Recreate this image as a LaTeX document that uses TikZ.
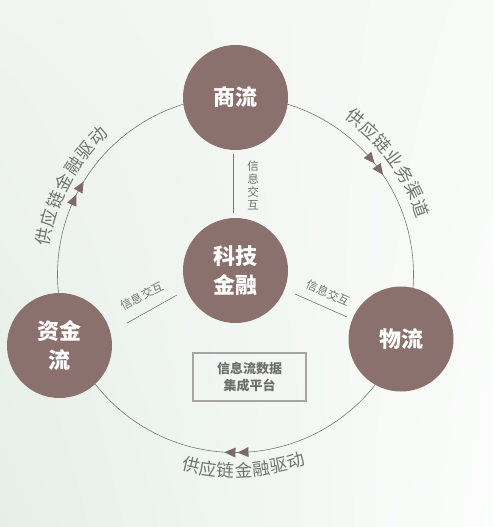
\documentclass[tikz,border=0pt]{standalone}
\usepackage{fontspec}
\setmainfont{Noto Sans CJK SC}
\usetikzlibrary{calc,shadings}
\definecolor{nodebrown}{RGB}{139,113,109}
\definecolor{arrowc}{RGB}{125,107,105}
\definecolor{ringc}{RGB}{120,120,120}
\definecolor{labc}{RGB}{115,115,115}
\definecolor{boxc}{RGB}{165,165,165}
\definecolor{boxtext}{RGB}{110,110,110}
\definecolor{bgul}{RGB}{241,244,241}
\definecolor{bgll}{RGB}{229,239,231}
\definecolor{bgur}{RGB}{248,250,248}
\definecolor{bglr}{RGB}{252,253,252}
\tikzset{
  bignode/.style={circle, fill=nodebrown, text=white, minimum size=105pt, inner sep=0pt,
    align=center, font=\bfseries\fontsize{22}{29}\selectfont},
  ring/.style={draw=ringc, line width=0.6pt},
  infoline/.style={draw=ringc, line width=0.6pt},
  arclab/.style={text=labc, inner sep=0pt, font=\fontsize{17.5}{18}\selectfont},
  infolab/.style={text=labc, inner sep=0pt, align=center, font=\fontsize{11.5}{13}\selectfont},
  platbox/.style={draw=boxc, line width=1.2pt, minimum width=113pt, minimum height=48pt,
    align=center, text=boxtext, font=\bfseries\fontsize{13}{17}\selectfont},
  arrowtri/.style={fill=arrowc}
}
\begin{document}
\begin{tikzpicture}[x=1pt,y=1pt]
\useasboundingbox (0,0) rectangle (493,-527);
\shade[upper left=bgul, lower left=bgll, upper right=bgur, lower right=bglr]
  (0,0) rectangle (493,-527);

\coordinate (C) at (235.5,-274.5);
% ring
\draw[ring] (C) circle[radius=178];

% arrows on ring (clockwise)
\foreach \a in {150.3,155.1,40.4,35.8,268.2,272.4}
  \fill[arrowtri, shift={($(C)+(\a:178)$)}, rotate=\a-90] (5.5,0) -- (-5.5,5) -- (-5.5,-5) -- cycle;

% nodes
\node[bignode] (shang) at (235.5,-97.5) {商流};
\node[bignode] (kj) at (235.5,-270.5) {科技\\金融};
\node[bignode] (zj) at (59.5,-345.5) {资金\\流};
\node[bignode] (wl) at (401,-339) {物流};

% info lines
\coordinate (v1) at (233,-154);
\coordinate (v2) at (233,-213);
\draw[infoline] (v1) -- (v2);
\node[infolab] (vlab) at (253,-185) {信\\息\\交\\互};

\coordinate (l1) at (127,-323);
\coordinate (l2) at (177,-295);
\draw[infoline] (l1) -- (l2);
\node[infolab, rotate=27] (llab) at (142,-296) {信息交互};

\coordinate (r1) at (295,-294);
\coordinate (r2) at (347,-317);
\draw[infoline] (r1) -- (r2);
\node[infolab, rotate=-24] (rlab) at (328,-293) {信息交互};

% platform box
\node[platbox] (plat) at (249.5,-377) {信息流数据\\集成平台};

% arc labels
\foreach \ch [count=\i from 0] in {供,应,链,金,融,驱,动} {
  \pgfmathsetmacro\a{168.9-\i*5.7}
  \node[arclab, rotate=\a-90] at ($(C)+(\a:195)$) {\ch};
}
\foreach \ch [count=\i from 0] in {供,应,链,业,务,渠,道} {
  \pgfmathsetmacro\a{52.6-\i*5.5}
  \node[arclab, rotate=\a-90] at ($(C)+(\a:197)$) {\ch};
}
\foreach \ch [count=\i from 0] in {供,应,链,金,融,驱,动} {
  \pgfmathsetmacro\a{256.9+\i*5.15}
  \node[arclab, rotate=\a+90] at ($(C)+(\a:196)$) {\ch};
}
\end{tikzpicture}
\end{document}
